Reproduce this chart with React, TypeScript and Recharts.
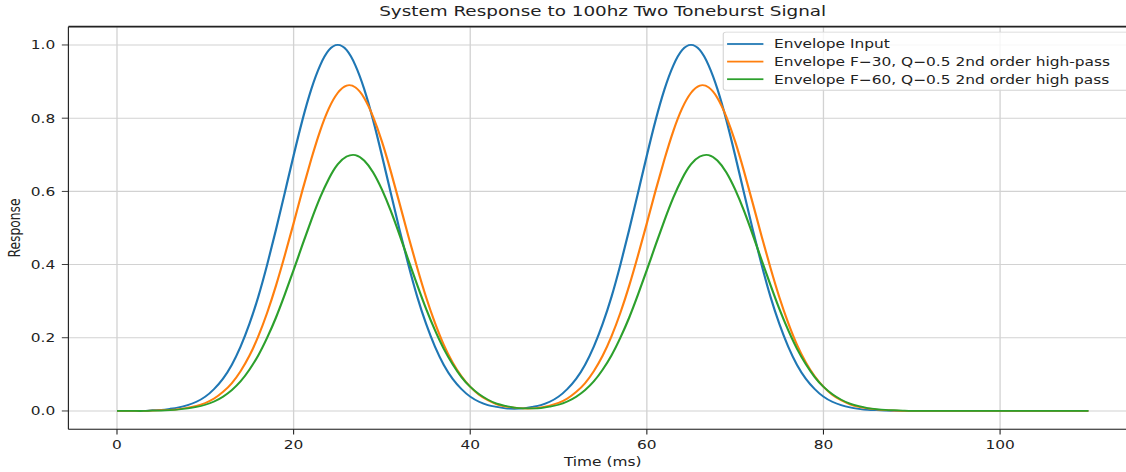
import {
  CartesianGrid,
  Legend,
  Line,
  LineChart,
  XAxis,
  YAxis,
} from 'recharts';

// sample times, 1 ms apart
const timeMs = Array.from({ length: 111 }, (_, i) => i);

const envelopeInput = [
  0, 0, 0, 0, 0.002, 0.003, 0.006, 0.01, 0.016, 0.025,
  0.039, 0.06, 0.088, 0.126, 0.176, 0.238, 0.312, 0.399, 0.495, 0.596,
  0.698, 0.795, 0.879, 0.944, 0.986, 1.0, 0.986, 0.944, 0.879, 0.795,
  0.698, 0.596, 0.495, 0.399, 0.312, 0.238, 0.176, 0.126, 0.088, 0.06,
  0.039, 0.025, 0.016, 0.011, 0.007, 0.006, 0.007, 0.011, 0.016, 0.025,
  0.039, 0.06, 0.088, 0.126, 0.176, 0.238, 0.312, 0.399, 0.495, 0.596,
  0.698, 0.795, 0.879, 0.944, 0.986, 1.0, 0.986, 0.944, 0.879, 0.795,
  0.698, 0.596, 0.495, 0.399, 0.312, 0.238, 0.176, 0.126, 0.088, 0.06,
  0.039, 0.025, 0.016, 0.01, 0.006, 0.003, 0.002, 0.001, 0, 0,
  0, 0, 0, 0, 0, 0, 0, 0, 0, 0,
  0, 0, 0, 0, 0, 0, 0, 0, 0, 0, 0,
];

const envelopeF30 = [
  0, 0, 0, 0, 0.001, 0.002, 0.003, 0.005, 0.009, 0.014,
  0.022, 0.034, 0.052, 0.076, 0.109, 0.151, 0.204, 0.268, 0.342, 0.425,
  0.513, 0.603, 0.688, 0.765, 0.827, 0.869, 0.889, 0.884, 0.855, 0.804,
  0.736, 0.655, 0.567, 0.477, 0.391, 0.311, 0.241, 0.181, 0.133, 0.095,
  0.066, 0.044, 0.029, 0.018, 0.012, 0.009, 0.007, 0.007, 0.01, 0.015,
  0.022, 0.034, 0.052, 0.076, 0.109, 0.151, 0.204, 0.268, 0.342, 0.425,
  0.513, 0.603, 0.688, 0.765, 0.827, 0.869, 0.889, 0.884, 0.855, 0.804,
  0.736, 0.655, 0.567, 0.477, 0.391, 0.311, 0.241, 0.181, 0.133, 0.095,
  0.066, 0.044, 0.029, 0.018, 0.011, 0.007, 0.004, 0.002, 0.001, 0,
  0, 0, 0, 0, 0, 0, 0, 0, 0, 0,
  0, 0, 0, 0, 0, 0, 0, 0, 0, 0, 0,
];

const envelopeF60 = [
  0, 0, 0, 0, 0.001, 0.001, 0.002, 0.004, 0.007, 0.011,
  0.017, 0.026, 0.039, 0.057, 0.081, 0.113, 0.152, 0.2, 0.255, 0.318,
  0.385, 0.454, 0.521, 0.583, 0.635, 0.674, 0.695, 0.699, 0.684, 0.652,
  0.605, 0.547, 0.481, 0.412, 0.344, 0.279, 0.221, 0.17, 0.128, 0.093,
  0.066, 0.046, 0.031, 0.02, 0.014, 0.009, 0.007, 0.007, 0.008, 0.012,
  0.017, 0.026, 0.039, 0.057, 0.081, 0.113, 0.152, 0.2, 0.255, 0.318,
  0.385, 0.454, 0.521, 0.583, 0.635, 0.674, 0.695, 0.699, 0.684, 0.652,
  0.605, 0.547, 0.481, 0.412, 0.344, 0.279, 0.221, 0.17, 0.128, 0.093,
  0.066, 0.046, 0.031, 0.02, 0.013, 0.008, 0.005, 0.003, 0.002, 0.001,
  0, 0, 0, 0, 0, 0, 0, 0, 0, 0,
  0, 0, 0, 0, 0, 0, 0, 0, 0, 0, 0,
];

const xTicks = [0, 20, 40, 60, 80, 100];
const yTicks = [0, 0.2, 0.4, 0.6, 0.8, 1.0];
const xDomain = [-5.5, 115.5];
const yDomain = [-0.05, 1.05];

const series = [
  { key: 'input', name: 'Envelope Input', color: '#1f77b4' },
  { key: 'f30', name: 'Envelope F=30, Q=0.5 2nd order high-pass', color: '#ff7f0e' },
  { key: 'f60', name: 'Envelope F=60, Q=0.5 2nd order high pass', color: '#2ca02c' },
];

const data = timeMs.map((t, i) => ({
  t,
  input: envelopeInput[i],
  f30: envelopeF30[i],
  f60: envelopeF60[i],
}));

// the figure is drawn slightly wide and flat, so scale the whole thing
const SX = 1.1;
const SY = 0.88;
const W = 1040;
const H = 537;
const MARGIN = { top: 30.3, right: 6.4, bottom: 1.2, left: 12.2 };
const Y_AXIS_W = 50;

const FONT = '"DejaVu Sans", sans-serif';
const INK = '#222';
const GRID = '#d2d2d2';

function LegendBox() {
  return (
    <div
      style={{
        width: 380,
        height: 67,
        boxSizing: 'border-box',
        border: '1px solid #d4d4d4',
        borderRadius: 3,
        background: 'rgba(255,255,255,0.8)',
        paddingTop: 2,
        fontFamily: FONT,
        fontSize: 14,
        color: INK,
      }}
    >
      {series.map((s) => (
        <div key={s.key} style={{ height: 20.4, display: 'flex', alignItems: 'center' }}>
          <div style={{ width: 33, height: 2, marginLeft: 3, background: s.color }} />
          <span style={{ marginLeft: 9.6, whiteSpace: 'nowrap' }}>
            {s.name.replace(/=/g, '\u2212')}
          </span>
        </div>
      ))}
    </div>
  );
}

export default function App() {
  const plotLeft = MARGIN.left + Y_AXIS_W;
  const plotWidth = W - MARGIN.right - plotLeft;
  return (
    <div
      style={{
        position: 'absolute',
        left: 0,
        top: 0,
        width: 1126,
        height: 472,
        overflow: 'hidden',
        background: '#fff',
      }}
    >
      <div
        style={{
          position: 'relative',
          width: W,
          height: H,
          transform: `scale(${SX}, ${SY})`,
          transformOrigin: '0 0',
        }}
      >
        <div
          style={{
            position: 'absolute',
            left: plotLeft,
            width: plotWidth,
            top: 4,
            textAlign: 'center',
            fontFamily: FONT,
            fontSize: 16.7,
            lineHeight: 1,
            color: INK,
          }}
        >
          System Response to 100hz Two Toneburst Signal
        </div>
        {/* top edge of the axes box */}
        <svg
          width={W}
          height={H}
          style={{ position: 'absolute', left: 0, top: 0, zIndex: 3, pointerEvents: 'none' }}
        >
          <line
            x1={plotLeft}
            x2={plotLeft + plotWidth}
            y1={MARGIN.top}
            y2={MARGIN.top}
            stroke={INK}
            strokeWidth={1.8}
          />
        </svg>
        <LineChart width={W} height={H} data={data} margin={MARGIN}>
          <CartesianGrid stroke={GRID} strokeWidth={1.2} />
          <XAxis
            dataKey="t"
            type="number"
            domain={xDomain}
            ticks={xTicks}
            height={48}
            tickSize={6}
            tickMargin={6}
            stroke={INK}
            tick={{ fontSize: 14, fill: INK, fontFamily: FONT }}
            label={({ viewBox }: any) => (
              <text
                x={viewBox.x + viewBox.width / 2}
                y={viewBox.y + 42.2}
                textAnchor="middle"
                fontSize={14}
                fontFamily={FONT}
                fill={INK}
              >
                Time (ms)
              </text>
            )}
          />
          <YAxis
            type="number"
            domain={yDomain}
            ticks={yTicks}
            width={Y_AXIS_W}
            tickSize={6}
            tickMargin={6}
            stroke={INK}
            tickFormatter={(v: number) => v.toFixed(1)}
            tick={{ fontSize: 14, fill: INK, fontFamily: FONT }}
            label={({ viewBox }: any) => {
              const x = viewBox.x + 6.4;
              const y = viewBox.y + viewBox.height / 2;
              return (
                <text
                  x={x}
                  y={y}
                  transform={`rotate(-90 ${x} ${y})`}
                  textAnchor="middle"
                  fontSize={14}
                  fontFamily={FONT}
                  fill={INK}
                >
                  Response
                </text>
              );
            }}
          />
          <Legend
            layout="horizontal"
            verticalAlign="middle"
            align="center"
            wrapperStyle={{ left: 657, top: 36.4, width: 380 }}
            content={() => <LegendBox />}
          />
          {series.map((s) => (
            <Line
              key={s.key}
              dataKey={s.key}
              name={s.name}
              type="natural"
              stroke={s.color}
              strokeWidth={2}
              dot={false}
              activeDot={false}
              isAnimationActive={false}
            />
          ))}
        </LineChart>
      </div>
    </div>
  );
}
